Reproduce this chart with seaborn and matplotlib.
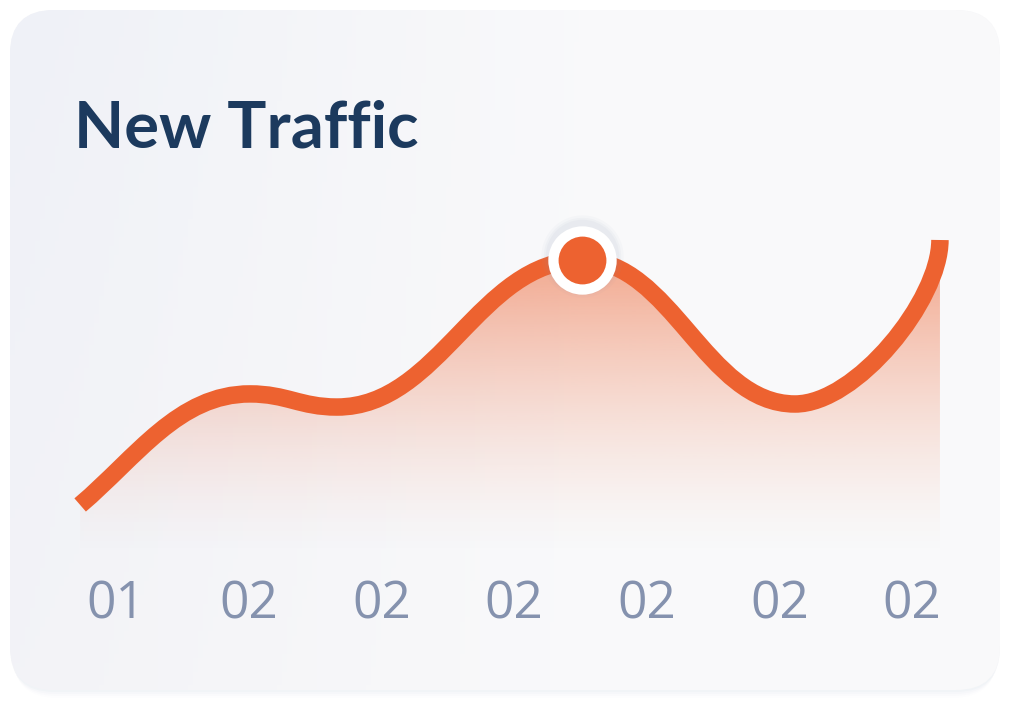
import numpy as np
import matplotlib
matplotlib.use("Agg")
import matplotlib.pyplot as plt
from matplotlib.patches import FancyBboxPatch, PathPatch
from matplotlib.path import Path
import seaborn as sns

# data (x in tick units, y in traffic units)
tick_labels = ["01", "02", "02", "02", "02", "02", "02"]
traffic_x = [-0.27, 1.01, 1.665, 3.512, 5.117, 6.209]
traffic_y = [17.2, 51.9, 47.8, 93.75, 48.75, 100.0]
peak_idx = 3

orange = "#ED6230"
navy = "#1C3A5E"
grey = "#8592AE"


def smooth_path(xs, ys, closed_to=None):
    # cubic bezier through the knots: flat tangents at turning points,
    # steep start, vertical finish at the end
    verts = [(xs[0], ys[0])]
    codes = [Path.MOVETO]
    n = len(xs)
    for i in range(n - 1):
        dx = xs[i + 1] - xs[i]
        if i == 0:
            m = 1.3 * (ys[1] - ys[0]) / dx
            c1 = (xs[0] + dx / 3, ys[0] + m * dx / 3)
        else:
            c1 = (xs[i] + 0.42 * dx, ys[i])
        if i == n - 2:
            c2 = (xs[-1], ys[-1] - 0.37 * (ys[-1] - ys[-2]))
        else:
            c2 = (xs[i + 1] - 0.42 * dx, ys[i + 1])
        verts += [c1, c2, (xs[i + 1], ys[i + 1])]
        codes += [Path.CURVE4] * 3
    if closed_to is not None:
        verts += [(xs[-1], closed_to), (xs[0], closed_to), (xs[0], ys[0])]
        codes += [Path.LINETO, Path.LINETO, Path.CLOSEPOLY]
    return Path(verts, codes)


sns.set_theme(style="white")
plt.rcParams['font.family'] = ['Open Sans', 'DejaVu Sans']

W, H = 1012, 702
fig = plt.figure(figsize=(W / 100, H / 100), dpi=100, facecolor="white")

# card background
bg = fig.add_axes([0, 0, 1, 1])
bg.set_xlim(0, W)
bg.set_ylim(H, 0)
bg.axis("off")

for i, a in enumerate([0.06, 0.045, 0.03, 0.02]):
    sh = FancyBboxPatch((10 + i, 14 + 2 * i), 990 - 2 * i, 678, boxstyle="round,pad=0,rounding_size=44",
                        fc="#b4bcd6", ec="none", alpha=a)
    bg.add_patch(sh)

card = FancyBboxPatch((10, 10), 990, 680, boxstyle="round,pad=0,rounding_size=44",
                      fc="#f4f5f8", ec="none")
bg.add_patch(card)
gx = np.linspace(0, 1, 200)
gy = np.linspace(0, 1, 150)
GX, GY = np.meshgrid(gx, gy)
c_tl = np.array([0.937, 0.945, 0.969])
c_tr = np.array([0.980, 0.980, 0.984])
c_bl = np.array([0.953, 0.953, 0.969])
c_br = np.array([0.980, 0.980, 0.984])
t = np.clip(GX * 1.6, 0, 1)[..., None]
top = c_tl * (1 - t) + c_tr * t
bot = c_bl * (1 - t) + c_br * t
img = top * (1 - GY[..., None]) + bot * GY[..., None]
im = bg.imshow(img, extent=[10, 1000, 690, 10], aspect="auto", zorder=1)
im.set_clip_path(card)

bg.text(74, 147, "New Traffic", fontsize=47, fontweight="bold", color=navy,
        family=["Lato", "DejaVu Sans"], va="baseline", ha="left", zorder=5)

# chart axes: bottom at pixel 560, spans full width
ax = fig.add_axes([0, (H - 560) / H, 1, 560 / H])
ax.patch.set_alpha(0)
ax.set_xlim(-0.874, 6.752)
ax.set_ylim(0, 175)
sns.despine(ax=ax, left=True, bottom=True)

# gradient fill under the curve
area = PathPatch(smooth_path(traffic_x, traffic_y, closed_to=0), fc="none", ec="none",
                 transform=ax.transData)
ax.add_patch(area)
v = np.linspace(0, 1, 256)[:, None]
grad = np.zeros((256, 1, 4))
grad[..., :3] = matplotlib.colors.to_rgb(orange)
grad[..., 3] = 0.58 * v ** 1.5
fim = ax.imshow(grad, extent=[traffic_x[0], traffic_x[-1] + 0.06, 0, 100], origin="lower",
                aspect="auto", zorder=2)
fim.set_clip_path(area)

line = PathPatch(smooth_path(traffic_x, traffic_y), fc="none", ec=orange, lw=12.6,
                 capstyle="butt", joinstyle="round", zorder=3, transform=ax.transData)
ax.add_patch(line)

px, py = traffic_x[peak_idx], traffic_y[peak_idx]
for s, a in [(3500, 0.04), (3100, 0.05), (2800, 0.06)]:
    ax.scatter([px], [py + 1.2], s=s, color="#9098b0", alpha=a, lw=0, zorder=4)
sns.scatterplot(x=[px], y=[py], ax=ax, s=1750, color=orange, edgecolor="white",
                linewidth=7.4, zorder=5, legend=False)

ax.set_xticks(range(len(tick_labels)))
ax.set_xticklabels(tick_labels, fontsize=37, color=grey)
ax.tick_params(axis="x", length=0, pad=14)
ax.set_yticks([])
ax.set_xlabel("")
ax.set_ylabel("")

fig.savefig("out.png", dpi=100, facecolor="white")
plt.close(fig)
